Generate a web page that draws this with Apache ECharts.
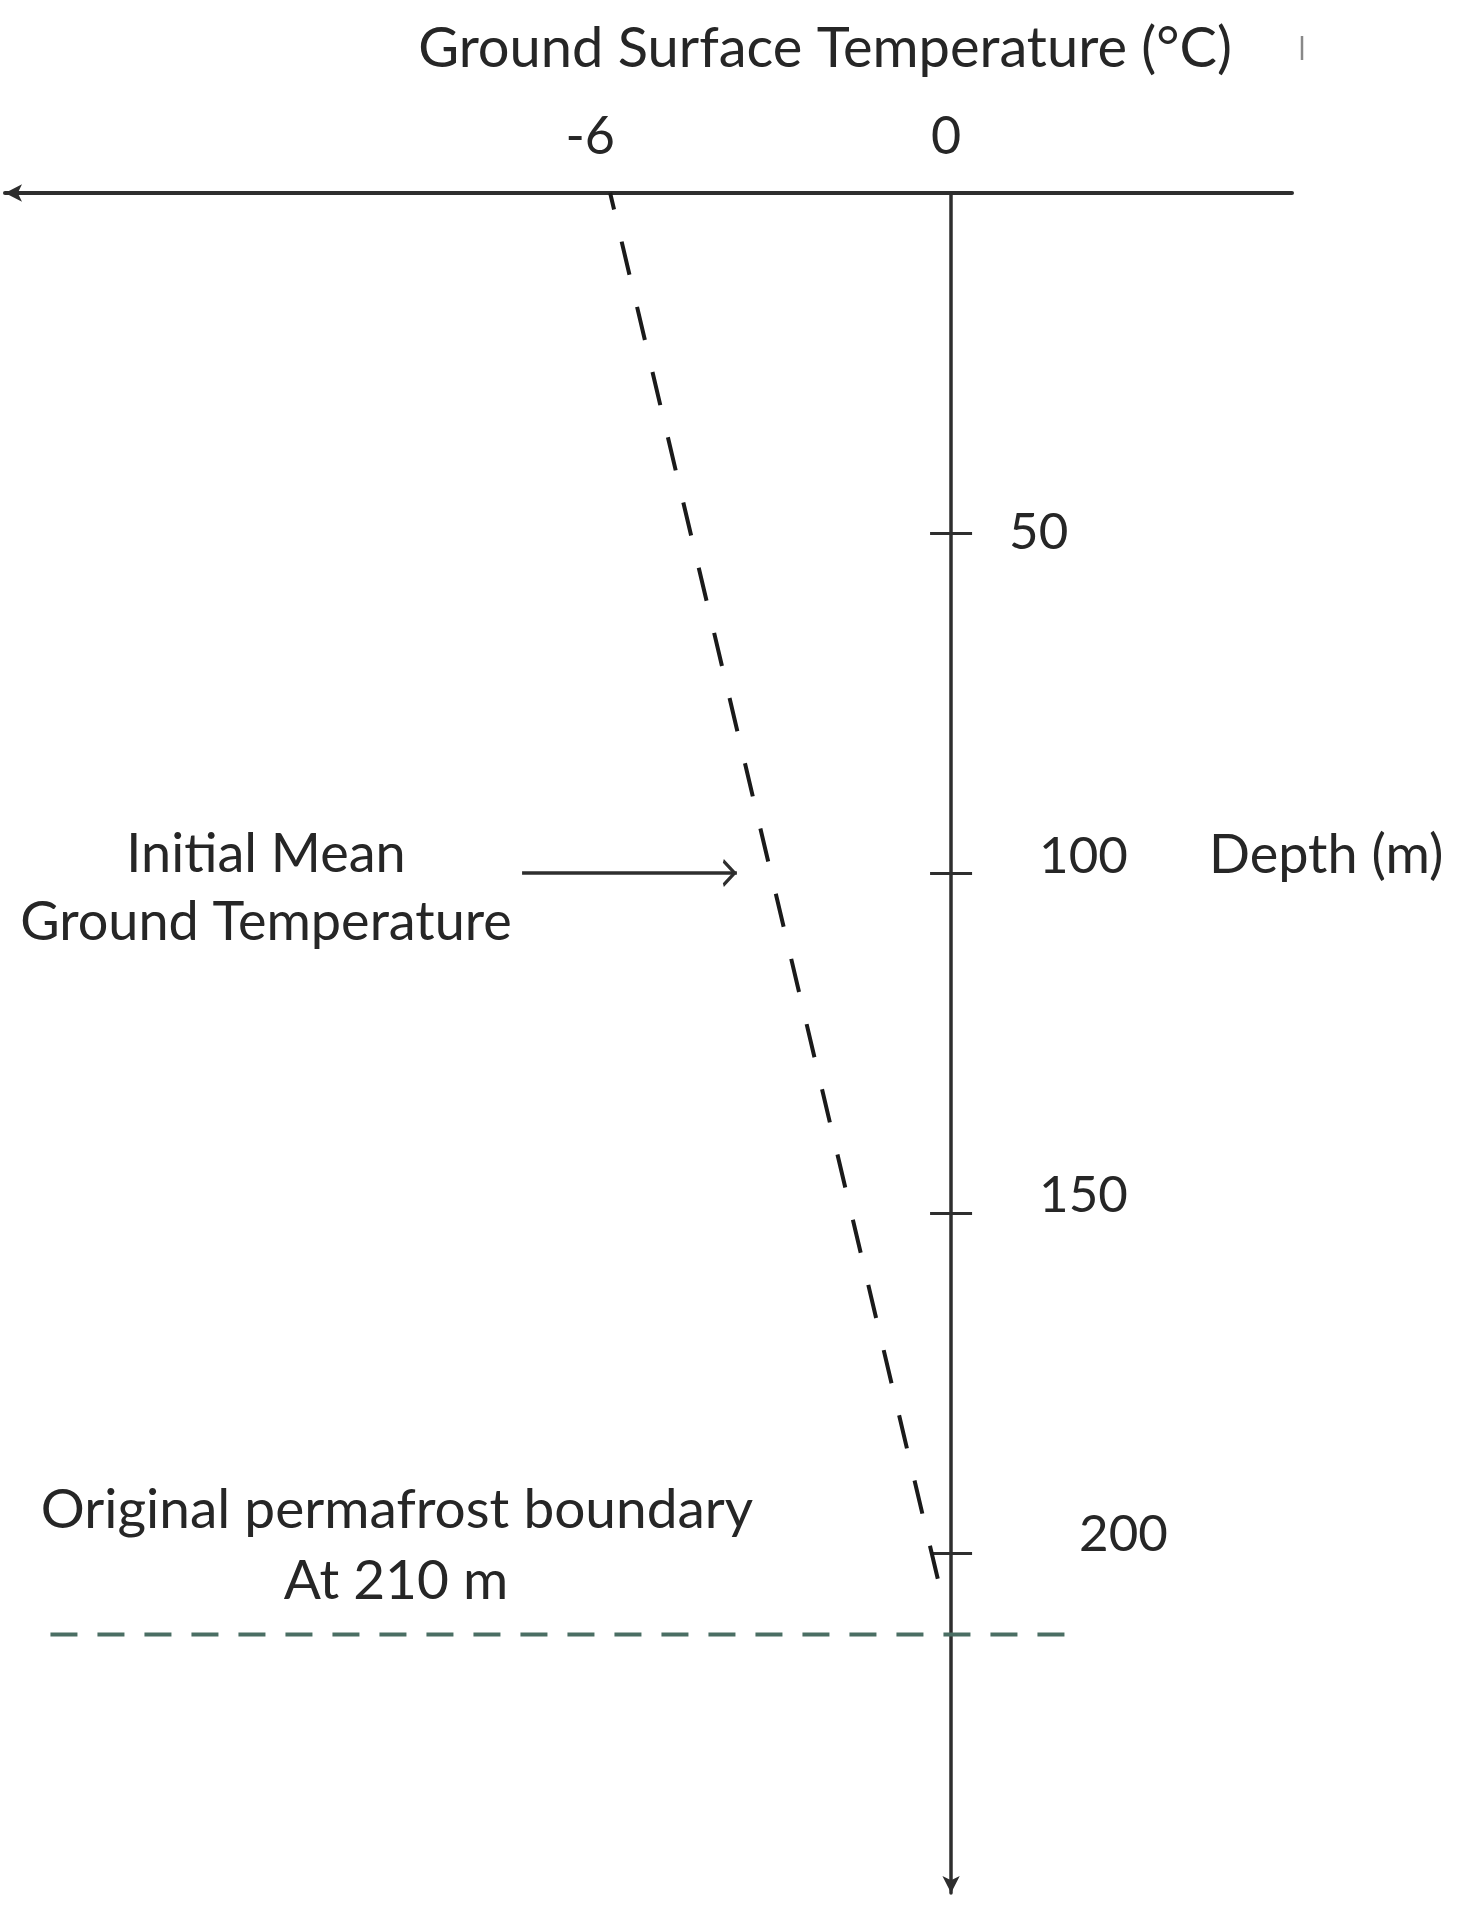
<!DOCTYPE html>
<html>
<head>
<meta charset="utf-8">
<title>Ground temperature profile</title>
<script src="https://cdn.jsdelivr.net/npm/echarts@6/dist/echarts.min.js"></script>
<style>
  html, body { margin: 0; padding: 0; background: #fff; }
  #chart { width: 1469px; height: 1915px; }
</style>
</head>
<body>
<div id="chart"></div>
<script>
// temperature (°C) vs depth (m)
const profileTemp = [-6, -0.2];
const profileDepth = [0, 205];

const boundaryDepth = 212;
const boundaryTemp = [-15.85, 2.2];

const arrowTemp = [-7.55, -3.77];
const arrowDepth = 100;

const xTicks = [-6, 0];
const yTicks = [50, 100, 150, 200];

const X_MIN = -16.65, X_MAX = 6;
const FONT = 'Lato';
const TXT = '#262626';
const AXIS = '#2e2e2e';

// nudge for each depth label [right, up*2]
const yLabelShift = { 50: [0, 0], 100: [30, 32], 150: [30, 34], 200: [70, 36] };
const yRich = {};
yTicks.forEach(v => {
  const s = yLabelShift[v];
  yRich['v' + v] = { fontFamily: FONT, fontSize: 51, color: TXT, padding: [0, 0, s[1], s[0]] };
});

// open arrow head, tip at the centre of its box (empty point below pads the box)
const chevron = 'path://M0,13 L13,0 L26,13 L22.5,14 L13,4.5 L3.5,14 Z M13,-14 L13,-14';

const el = document.getElementById('chart');
const chart = echarts.init(el);
const grid = { left: 5, right: 177, top: 193, bottom: 22 };
// put the depth axis at temperature 0
const plotW = chart.getWidth() - grid.left - grid.right;
const yOffset = -X_MAX / (X_MAX - X_MIN) * plotW;

chart.setOption({
  animation: false,
  grid: Object.assign({ outerBoundsMode: 'none', containLabel: false }, grid),
  xAxis: {
    type: 'value', min: X_MIN, max: X_MAX, position: 'top',
    splitLine: { show: false },
    axisLine: { onZero: true, symbol: ['arrow', 'none'], symbolSize: [13, 17],
      lineStyle: { color: AXIS, width: 4 } },
    axisTick: { show: false },
    axisLabel: {
      customValues: xTicks, margin: 30,
      formatter: v => v === -6 ? '{a|' + v + '}' : '{b|' + v + '}',
      rich: {
        a: { fontFamily: FONT, fontSize: 52, color: TXT, padding: [0, 40, 0, 0] },
        b: { fontFamily: FONT, fontSize: 52, color: TXT, padding: [0, 10, 0, 0] }
      }
    }
  },
  yAxis: [{
    type: 'value', min: 0, max: 250, inverse: true, position: 'right', offset: yOffset,
    splitLine: { show: false },
    axisLine: { onZero: false, symbol: ['arrow', 'none'], symbolSize: [13, 17],
      lineStyle: { color: AXIS, width: 3.5 } },
    axisTick: { customValues: yTicks, length: 21, lineStyle: { color: AXIS, width: 3 } },
    axisLabel: {
      customValues: yTicks, margin: 58,
      formatter: v => '{v' + v + '|' + v + '}',
      rich: yRich
    }
  }, {
    type: 'value', min: 0, max: 250, inverse: true, position: 'right', offset: yOffset,
    splitLine: { show: false },
    axisLine: { onZero: false, show: false },
    axisTick: { customValues: yTicks, inside: true, length: 21, lineStyle: { color: AXIS, width: 3 } },
    axisLabel: { show: false }
  }],
  series: [{
    name: 'Initial Mean Ground Temperature',
    type: 'line',
    data: profileTemp.map((t, i) => [t, profileDepth[i]]),
    symbol: 'none',
    lineStyle: { color: '#1a1a1a', width: 4, type: [34, 33], dashOffset: 17 }
  }, {
    name: 'Original permafrost boundary',
    type: 'line',
    yAxisIndex: 1,
    data: boundaryTemp.map(t => [t, boundaryDepth]),
    symbol: 'none',
    lineStyle: { color: '#4a6e63', width: 4, type: [27, 20] }
  }, {
    type: 'lines',
    coordinateSystem: 'cartesian2d',
    symbol: ['none', chevron],
    symbolSize: [0, 28],
    lineStyle: { color: AXIS, width: 3.5, opacity: 1 },
    data: [{ coords: arrowTemp.map(t => [t, arrowDepth]) }]
  }],
  graphic: [
    { type: 'text', x: 825, y: 49, style: { text: 'Ground Surface Temperature (°C)', font: '56px ' + FONT, fill: TXT, textAlign: 'center', textVerticalAlign: 'middle' } },
    { type: 'line', shape: { x1: 1302, y1: 36, x2: 1302, y2: 60 }, style: { stroke: '#888', lineWidth: 2.5 } },
    { type: 'text', x: 266, y: 855, style: { text: 'Initial Mean', font: '54px ' + FONT, fill: TXT, textAlign: 'center', textVerticalAlign: 'middle' } },
    { type: 'text', x: 266, y: 923, style: { text: 'Ground Temperature', font: '54px ' + FONT, fill: TXT, textAlign: 'center', textVerticalAlign: 'middle' } },
    { type: 'text', x: 1209, y: 856, style: { text: 'Depth (m)', font: '54px ' + FONT, fill: TXT, textAlign: 'left', textVerticalAlign: 'middle' } },
    { type: 'text', x: 397, y: 1510, style: { text: 'Original permafrost boundary', font: '55px ' + FONT, fill: TXT, textAlign: 'center', textVerticalAlign: 'middle' } },
    { type: 'text', x: 396, y: 1581, style: { text: 'At 210 m', font: '55px ' + FONT, fill: TXT, textAlign: 'center', textVerticalAlign: 'middle' } }
  ]
});
</script>
</body>
</html>
